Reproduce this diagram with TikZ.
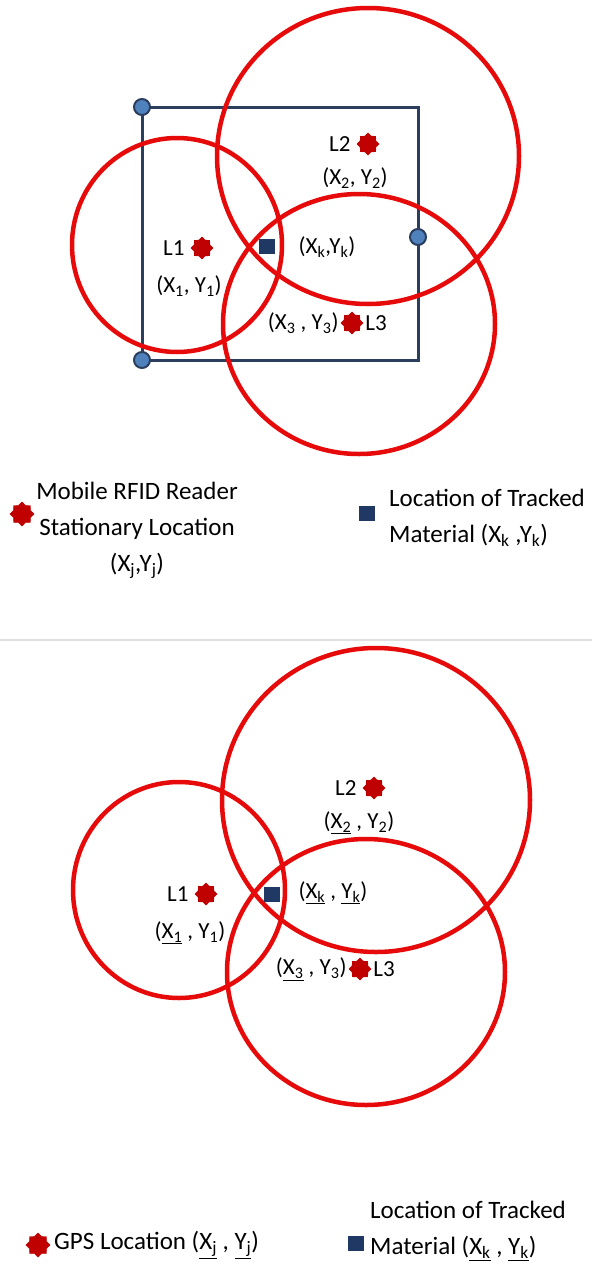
\documentclass[tikz,border=0pt]{standalone}
\usepackage{fontspec}
\setmainfont{Carlito}
\usetikzlibrary{shapes.geometric,positioning}
\definecolor{ringred}{RGB}{230,10,10}
\definecolor{starred}{RGB}{192,0,0}
\definecolor{navy}{RGB}{31,56,100}
\definecolor{framenavy}{RGB}{44,62,94}
\definecolor{dotblue}{RGB}{79,129,189}
\newcommand{\ul}[1]{\underline{#1}}

\begin{document}
\begin{tikzpicture}[x=1pt,y=-1pt,
  every node/.style={font=\fontsize{23}{28}\selectfont, inner sep=1pt},
  legendtext/.style={font=\fontsize{25}{28}\selectfont},
  ring/.style={draw=ringred, line width=4.5pt},
  readerstar/.style={star, star points=8, star point ratio=1.3,
    fill=starred, draw=starred, minimum size=22pt, inner sep=0pt},
  tagsquare/.style={rectangle, fill=navy, minimum width=16pt,
    minimum height=15pt, inner sep=0pt},
  cornerdot/.style={circle, fill=dotblue, draw=framenavy,
    line width=2pt, minimum size=16pt, inner sep=0pt}]

\useasboundingbox (0,0) rectangle (592,1269);

% ---------- top panel: RFID ----------
\coordinate (c1) at (177,245);
\coordinate (c2) at (368,156);
\coordinate (c3) at (359,324);

% frame
\coordinate (tl) at (142,107);
\coordinate (br) at (418,360);
\draw[framenavy, line width=3pt] (tl) rectangle (br);

\draw[ring] (c1) ellipse (105 and 107);
\draw[ring] (c2) ellipse (151 and 148);
\draw[ring] (c3) ellipse (136 and 130);

\node[cornerdot] (d1) at (tl) {};
\node[cornerdot] (d2) at (142,360) {};
\node[cornerdot] (d3) at (418,237) {};

% readers
\node[readerstar] (r1) at (202,248) {};
\node[left=5pt of r1] (r1l) {L1};
\node (r1c) at (189,286) {(X\textsubscript{1}, Y\textsubscript{1})};

\node[readerstar] (r2) at (368,144) {};
\node[left=5pt of r2] (r2l) {L2};
\node (r2c) at (355,178) {(X\textsubscript{2}, Y\textsubscript{2})};

\node[readerstar] (r3) at (352,323) {};
\node[left=1pt of r3] (r3c) {(X\textsubscript{3} , Y\textsubscript{3})};
\node[right=1pt of r3] (r3l) {L3};

% tracked material
\node[tagsquare] (k) at (267,246) {};
\node (kc) at (327,247) {(X\textsubscript{k},Y\textsubscript{k})};

% legend
\node[readerstar, minimum size=24pt] (lg1) at (22,514) {};
\node[legendtext, align=center] (lg1t) at (137,530)
  {Mobile RFID Reader\\[8pt]Stationary Location\\[8pt](X\textsubscript{j},Y\textsubscript{j})};
\node[tagsquare] (lg2) at (367,513) {};
\node[legendtext, align=left, anchor=west] (lg2t) at (388,518)
  {Location of Tracked\\[8pt]Material (X\textsubscript{k} ,Y\textsubscript{k})};

% separator
\coordinate (sepl) at (0,640);
\coordinate (sepr) at (592,640);
\draw[black!12, line width=2pt] (sepl) -- (sepr);

% ---------- bottom panel: GPS ----------
\coordinate (g1) at (179,890);
\coordinate (g2) at (376,800);
\coordinate (g3) at (366,972);

\draw[ring] (g1) ellipse (106 and 108);
\draw[ring] (g2) ellipse (154 and 152);
\draw[ring] (g3) ellipse (139 and 133);

\node[readerstar] (s1) at (206,894) {};
\node[left=5pt of s1] (s1l) {L1};
\node (s1c) at (190,933) {(\ul{X\textsubscript{1}} , Y\textsubscript{1})};

\node[readerstar] (s2) at (374,788) {};
\node[left=5pt of s2] (s2l) {L2};
\node (s2c) at (359,823) {(\ul{X\textsubscript{2}} , Y\textsubscript{2})};

\node[readerstar] (s3) at (360,969) {};
\node[left=1pt of s3] (s3c) {(\ul{X\textsubscript{3}} , Y\textsubscript{3})};
\node[right=1pt of s3] (s3l) {L3};

\node[tagsquare] (m) at (272,894) {};
\node (mc) at (333,893) {(\ul{X\textsubscript{k}} , \ul{Y\textsubscript{k}})};

% legend
\node[readerstar, minimum size=24pt] (lg3) at (38,1245) {};
\node[legendtext, anchor=west] (lg3t) at (53,1245)
  {GPS Location (\ul{X\textsubscript{j}} , \ul{Y\textsubscript{j}})};
\node[tagsquare] (lg4) at (356,1243) {};
\node[legendtext, align=left, anchor=west] (lg4t) at (369,1231)
  {Location of Tracked\\[8pt]Material (\ul{X\textsubscript{k}} , \ul{Y\textsubscript{k}})};

\end{tikzpicture}
\end{document}
